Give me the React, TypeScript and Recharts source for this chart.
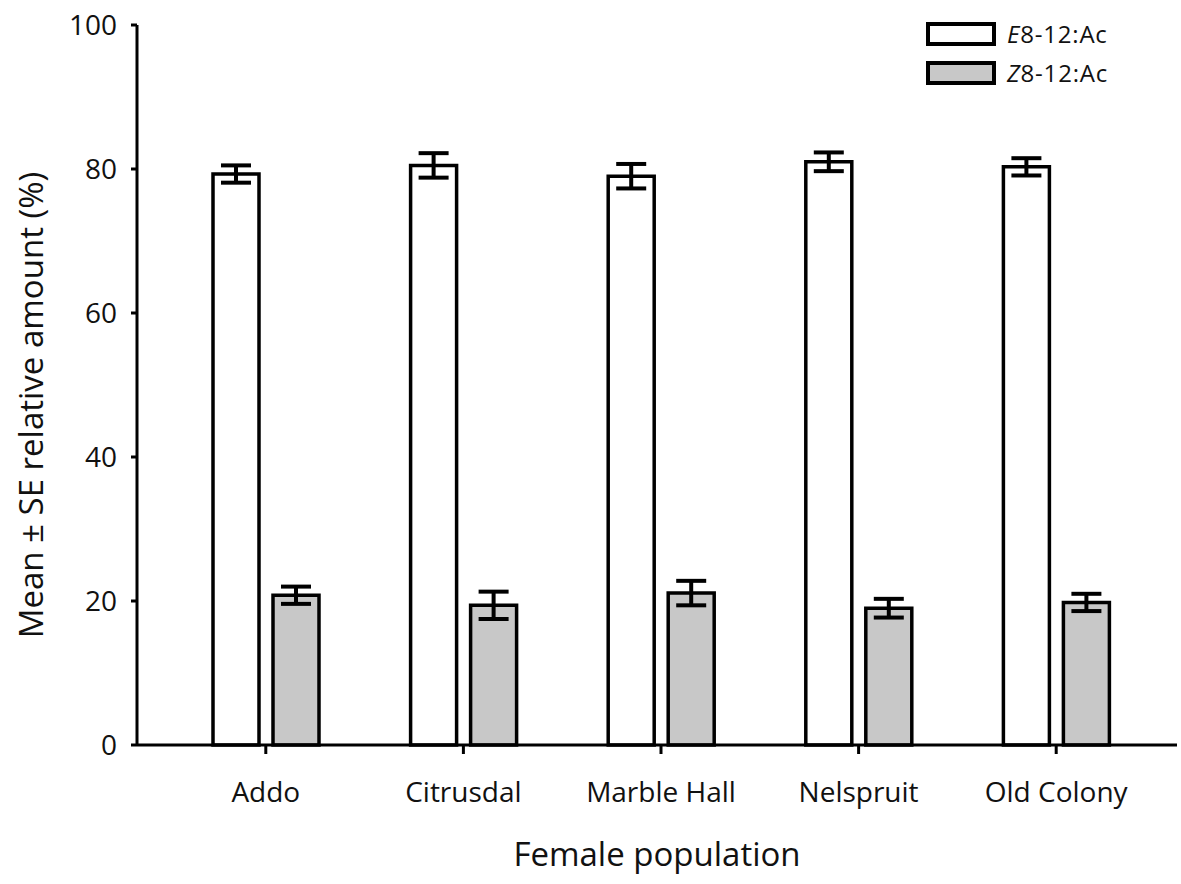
import React from 'react';
import { BarChart, Bar, XAxis, YAxis, ErrorBar, Legend } from 'recharts';

const categories = ['Addo', 'Citrusdal', 'Marble Hall', 'Nelspruit', 'Old Colony'];
const eMeans = [79.3, 80.5, 79.0, 81.0, 80.3];
const eSE = [1.2, 1.7, 1.7, 1.3, 1.2];
const zMeans = [20.8, 19.4, 21.1, 19.0, 19.8];
const zSE = [1.2, 1.9, 1.7, 1.3, 1.2];
const yTicks = [0, 20, 40, 60, 80, 100];

const data = categories.map((c, i) => ({
  name: c,
  e: eMeans[i],
  eErr: eSE[i],
  z: zMeans[i],
  zErr: zSE[i],
}));

const FONT = '"Open Sans", Lato, sans-serif';

const LegendContent = () => (
  <div style={{ fontFamily: FONT, fontSize: 24, letterSpacing: 0.8, color: '#111' }}>
    {[
      { pre: 'E', fill: '#ffffff' },
      { pre: 'Z', fill: '#c8c8c8' },
    ].map((it, i) => (
      <div key={i} style={{ display: 'flex', alignItems: 'center', height: 39 }}>
        <svg width={70} height={24} style={{ marginRight: 11 }}>
          <rect x={2} y={2} width={66} height={20} fill={it.fill} stroke="#000" strokeWidth={4} />
        </svg>
        <span>
          <i>{it.pre}</i>8-12:Ac
        </span>
      </div>
    ))}
  </div>
);

export default function App() {
  return (
    <div style={{ position: 'absolute', left: 0, top: 0, width: 1181, height: 884, background: '#fff' }}>
      <BarChart
        width={1181}
        height={884}
        data={data}
        margin={{ top: 25, right: 4, left: 0, bottom: 0 }}
        barSize={46}
        barGap={14}
      >
        <XAxis
          dataKey="name"
          height={139}
          padding={{ left: 30, right: 22 }}
          axisLine={{ stroke: '#000', strokeWidth: 3 }}
          tickLine={{ stroke: '#000', strokeWidth: 3 }}
          tickSize={9}
          tickMargin={28}
          tick={{ fill: '#111', fontSize: 28, fontFamily: FONT }}
          interval={0}
          label={{
            value: 'Female population',
            position: 'insideBottom',
            offset: 18,
            style: { fill: '#111', fontSize: 33, fontFamily: FONT },
          }}
        />
        <YAxis
          width={137}
          domain={[0, 100]}
          ticks={yTicks}
          interval={0}
          axisLine={{ stroke: '#000', strokeWidth: 3 }}
          tickLine={{ stroke: '#000', strokeWidth: 3 }}
          tickSize={6}
          tickMargin={14}
          tick={{ fill: '#111', fontSize: 28, fontFamily: FONT }}
          label={{
            value: 'Mean ± SE relative amount (%)',
            content: () => (
              <text
                x={30}
                y={405}
                transform="rotate(-90 30 405)"
                textAnchor="middle"
                dominantBaseline="central"
                fill="#111"
                fontSize={33}
                fontFamily={FONT}
              >
                Mean ± SE relative amount (%)
              </text>
            ),
          }}
        />
        <Legend
          layout="vertical"
          verticalAlign="middle"
          align="center"
          content={<LegendContent />}
          wrapperStyle={{ position: 'absolute', top: 14, left: 926, width: 250, height: 80 }}
        />
        <Bar dataKey="e" fill="#ffffff" stroke="#000" strokeWidth={3.5} isAnimationActive={false}>
          <ErrorBar dataKey="eErr" width={15} stroke="#000" strokeWidth={4} />
        </Bar>
        <Bar dataKey="z" fill="#c8c8c8" stroke="#000" strokeWidth={3.5} isAnimationActive={false}>
          <ErrorBar dataKey="zErr" width={15} stroke="#000" strokeWidth={4} />
        </Bar>
      </BarChart>
    </div>
  );
}
